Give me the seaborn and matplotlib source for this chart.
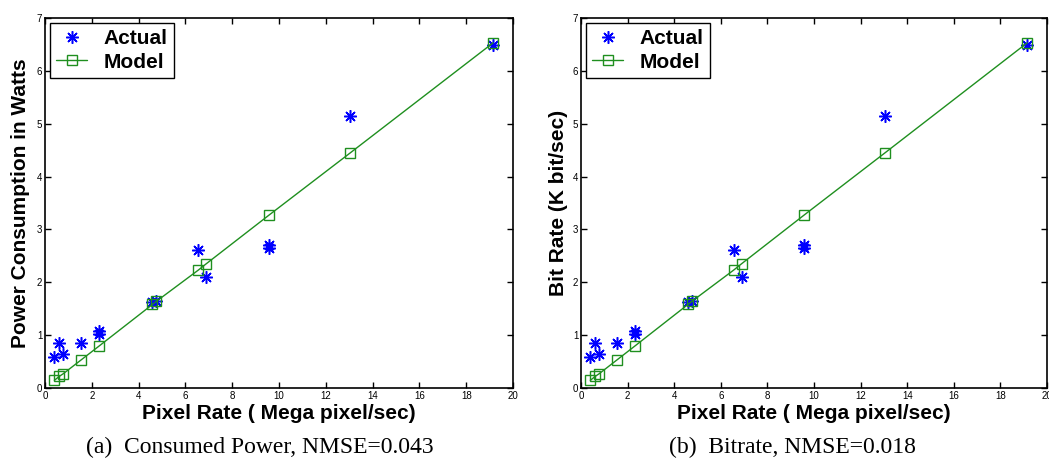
import matplotlib
matplotlib.use("Agg")
import matplotlib.pyplot as plt
import seaborn as sns
import pandas as pd

# Pixel rate (Mega pixel/sec) of the test sequences and the fitted model output
model_pixel_rate = [0.40, 0.61, 0.78, 1.54, 2.30, 4.59, 4.76, 6.55, 6.89, 9.57, 13.05, 19.15]
model_values = [0.145, 0.22, 0.27, 0.53, 0.79, 1.58, 1.64, 2.23, 2.35, 3.27, 4.45, 6.53]

# Measured values (some pixel rates were measured twice)
actual_pixel_rate = [0.40, 0.61, 0.78, 1.54, 2.30, 2.30, 4.59, 4.76, 6.55, 6.89, 9.57, 9.57, 13.05, 19.15]
actual_values = [0.58, 0.86, 0.64, 0.85, 1.02, 1.08, 1.63, 1.64, 2.61, 2.10, 2.64, 2.71, 5.14, 6.48]

x_ticks = [0, 2, 4, 6, 8, 10, 12, 14, 16, 18, 20]
y_ticks = [0, 1, 2, 3, 4, 5, 6, 7]
x_label = "Pixel Rate ( Mega pixel/sec)"
panel_ylabels = ["Power Consumption in Watts", "Bit Rate (K bit/sec)"]
captions = ["(a)  Consumed Power, NMSE=0.043", "(b)  Bitrate, NMSE=0.018"]
series_names = ["Actual", "Model"]

sns.set_style("ticks")
plt.rcParams["font.family"] = ["Liberation Sans", "DejaVu Sans"]
plt.rcParams["text.color"] = "black"
plt.rcParams["axes.labelcolor"] = "black"
plt.rcParams["xtick.color"] = "black"
plt.rcParams["ytick.color"] = "black"

actual_df = pd.DataFrame({"rate": actual_pixel_rate, "value": actual_values})
model_df = pd.DataFrame({"rate": model_pixel_rate, "value": model_values})

fig = plt.figure(figsize=(10.49, 4.67), dpi=100)
axes_boxes = [
    [45 / 1049, 1 - 388 / 467, 468 / 1049, 370 / 467],
    [581 / 1049, 1 - 388 / 467, 466 / 1049, 370 / 467],
]
caption_x = [260 / 1049, 792 / 1049]
ylabel_x = [21 / 1049, 558 / 1049]

blue = "#0000ff"
green = "#1f8f1f"

for i, box in enumerate(axes_boxes):
    ax = fig.add_axes(box)
    sns.lineplot(data=actual_df, x="rate", y="value", ax=ax, estimator=None,
                 sort=False, linestyle="none", marker=(8, 2, 0), markersize=9,
                 markeredgewidth=1.1, markeredgecolor=blue, color=blue,
                 label=series_names[0])
    sns.lineplot(data=model_df, x="rate", y="value", ax=ax, estimator=None,
                 sort=False, linewidth=1.0, marker="s", markersize=7.5,
                 markerfacecolor="none", markeredgecolor=green,
                 markeredgewidth=1.0, color=green, label=series_names[1])

    ax.set_xlim(x_ticks[0], x_ticks[-1])
    ax.set_ylim(y_ticks[0], y_ticks[-1])
    ax.set_xticks(x_ticks)
    ax.set_yticks(y_ticks)
    ax.tick_params(direction="in", length=4, width=1, labelsize=7,
                   top=True, right=True, pad=2, colors="black")
    for sp in ax.spines.values():
        sp.set_visible(True)
        sp.set_linewidth(1.2)
        sp.set_color("black")

    ax.set_xlabel(x_label, fontsize=15, fontweight="bold", labelpad=2)
    ax.set_ylabel("")
    fig.text(ylabel_x[i], 1 - 203 / 467, panel_ylabels[i], rotation=90,
             ha="center", va="center", fontsize=15, fontweight="bold")

    leg = ax.legend(loc="upper left", prop={"weight": "bold", "size": 15},
                    frameon=True, fancybox=False, edgecolor="black",
                    handlelength=1.45, handletextpad=0.8, borderpad=0.3,
                    labelspacing=0.2, borderaxespad=0.25)
    leg.get_frame().set_linewidth(1.0)
    leg.get_frame().set_alpha(1)

    fig.text(caption_x[i], 1 - 447 / 467, captions[i], ha="center", va="center",
             fontsize=17, family="Liberation Serif")

fig.savefig("out.png", dpi=100)
